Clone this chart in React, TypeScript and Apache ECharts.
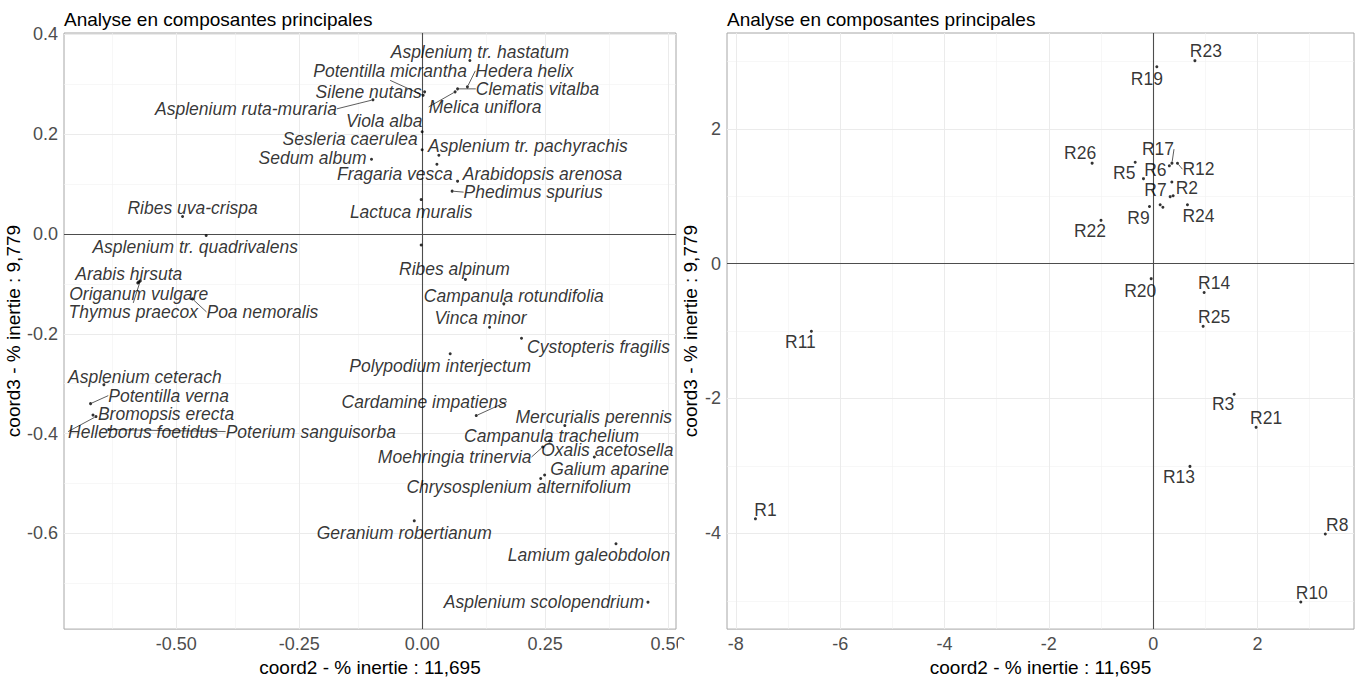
import React, { useEffect, useRef } from "react";
import * as echarts from "echarts";

const TITLE = "Analyse en composantes principales";
const X_TITLE = "coord2 - % inertie : 11,695";
const Y_TITLE = "coord3 - % inertie : 9,779";

// ---- left panel: species ----
const speciesNames = [
  "Asplenium tr. hastatum", "Hedera helix", "Clematis vitalba", "Melica uniflora",
  "Potentilla micrantha", "Silene nutans", "Asplenium ruta-muraria", "Viola alba",
  "Sesleria caerulea", "Asplenium tr. pachyrachis", "Sedum album", "Fragaria vesca",
  "Arabidopsis arenosa", "Phedimus spurius", "Lactuca muralis", "Ribes uva-crispa",
  "Asplenium tr. quadrivalens", "", "Ribes alpinum", "Arabis hirsuta",
  "Origanum vulgare", "Thymus praecox", "Poa nemoralis", "Campanula rotundifolia",
  "Vinca minor", "Cystopteris fragilis", "Polypodium interjectum", "Asplenium ceterach",
  "Potentilla verna", "Bromopsis erecta", "Helleborus foetidus", "Poterium sanguisorba",
  "Cardamine impatiens", "Mercurialis perennis", "Campanula trachelium", "Oxalis acetosella",
  "Moehringia trinervia", "Galium aparine", "Chrysosplenium alternifolium", "Geranium robertianum",
  "Lamium galeobdolon", "Asplenium scolopendrium",
];
const speciesX = [
  0.097, 0.092, 0.072, 0.067,
  0.002, 0.005, -0.1, 0.0,
  0.0, 0.034, -0.103, 0.03,
  0.072, 0.061, -0.002, -0.487,
  -0.439, -0.002, 0.088, -0.576,
  -0.578, -0.573, -0.467, 0.166,
  0.137, 0.202, 0.057, -0.647,
  -0.674, -0.669, -0.663, -0.637,
  0.11, 0.29, 0.259, 0.35,
  0.245, 0.249, 0.241, -0.016,
  0.394, 0.459,
];
const speciesY = [
  0.348, 0.295, 0.291, 0.285,
  0.278, 0.285, 0.269, 0.205,
  0.169, 0.158, 0.15, 0.14,
  0.106, 0.086, 0.069, 0.035,
  -0.003, -0.022, -0.091, -0.096,
  -0.098, -0.094, -0.13, -0.14,
  -0.187, -0.209, -0.24, -0.302,
  -0.34, -0.363, -0.366, -0.392,
  -0.364, -0.384, -0.415, -0.447,
  -0.427, -0.483, -0.49, -0.575,
  -0.621, -0.738,
];
// label placement (pixel offsets from the point, ggrepel-like)
const speciesLabelDx = [
  10, 57, 80, 30, -33, -56, -127, -38, -72, 89, -59, -42, 85, 81, -10, 10,
  -11, 0, -11, -10, 1, -7, 70, 10, -9, 77, -10, 41, 78, 73, 47, 202,
  -52, 29, 2, 13, -88, 65, -22, -10, -27, -104,
];
const speciesLabelDy = [
  -8, -16, 0, 15, -24, 0, 9, -11, -11, -9, -1, 10, -7, 1, 12, -9,
  11, 0, -10, -8, 11, 31, 13, -8, -9, 9, 12, -8, -8, -1, 15, 2,
  -14, -9, -5, -7, 10, -6, 9, 12, 11, 0,
];
const speciesWithSegment = [
  "Hedera helix", "Clematis vitalba", "Melica uniflora", "Potentilla micrantha",
  "Asplenium ruta-muraria", "Phedimus spurius", "Thymus praecox", "Poa nemoralis",
  "Potentilla verna", "Helleborus foetidus", "Poterium sanguisorba",
  "Cardamine impatiens", "Moehringia trinervia",
];

// ---- right panel: relevés ----
const releveNames = [
  "R1", "R2", "R3", "R4", "R5", "R6", "R7", "R8", "R9", "R10", "R11", "R12", "R13",
  "R14", "R15", "R16", "R17", "R18", "R19", "R20", "R21", "R22", "R23", "R24", "R25", "R26",
];
const releveX = [
  -7.625, 0.358, 1.552, 0.326, -0.345, 0.31, -0.186, 3.3, -0.071, 2.83, -6.552, 0.466, 0.705,
  0.977, 0.383, 0.134, 0.36, 0.186, 0.07, -0.038, 1.973, -1.0, 0.8, 0.657, 0.958, -1.17,
];
const releveY = [
  -3.785, 1.21, -1.937, 0.993, 1.504, 1.45, 1.26, -4.01, 0.847, -5.017, -1.003, 1.489, -3.007,
  -0.428, 1.007, 0.872, 1.49, 0.837, 2.92, -0.223, -2.428, 0.642, 3.01, 0.872, -0.93, 1.49,
];
const releveLabelDx = [
  10, 15, -11, 0, -11, -14, 12, 12, -11, 11, -11, 21, -11,
  10, 0, 0, -14, 0, -10, -11, 10, -11, 11, 11, 11, -12,
];
const releveLabelDy = [
  -9, 6, 10, 0, 11, 4, 11, -9, 11, -9, 11, 6, 11,
  -9, 0, 0, -14, 0, 12, 12, -9, 11, -10, 11, -9, -10,
];
const releveHiddenLabels = ["R4", "R15", "R16", "R18"];
const releveWithSegment = ["R17", "R12"];

// ---- axes ----
const leftXRange = [-0.728, 0.516];
const leftYRange = [-0.792, 0.403];
const leftXTicks = [-0.5, -0.25, 0, 0.25, 0.5];
const leftXMinor = [-0.625, -0.375, -0.125, 0.125, 0.375];
const leftYTicks = [0.4, 0.2, 0, -0.2, -0.4, -0.6];
const leftYMinor = [0.3, 0.1, -0.1, -0.3, -0.5, -0.7];

const rightXRange = [-8.17, 3.85];
const rightYRange = [-5.42, 3.42];
const rightXTicks = [-8, -6, -4, -2, 0, 2];
const rightXMinor = [-7, -5, -3, -1, 1, 3];
const rightYTicks = [2, 0, -2, -4];
const rightYMinor = [3, 1, -1, -3, -5];

const FONT = "'Liberation Sans', Arial, Helvetica, sans-serif";

function makeAxis(
  gridIndex: number,
  range: number[],
  ticks: number[],
  fmt: (v: number) => string,
  isY: boolean,
  nameGap: number
) {
  return {
    type: "value",
    gridIndex,
    min: range[0],
    max: range[1],
    name: isY ? Y_TITLE : X_TITLE,
    nameLocation: "middle",
    nameGap,
    nameTextStyle: { fontSize: 19, color: "#000", fontFamily: FONT },
    axisLine: { show: false },
    axisTick: {
      show: true,
      length: 4,
      customValues: ticks,
      lineStyle: { color: "#666", width: 1 },
    },
    axisLabel: {
      customValues: ticks,
      formatter: (v: number) => fmt(v),
      fontSize: 18,
      color: "#4d4d4d",
      margin: 6,
      fontFamily: FONT,
    },
    splitLine: { show: false },
    minorSplitLine: { show: false },
  };
}

function gridMarkLine(xMajor: number[], xMinor: number[], yMajor: number[], yMinor: number[]) {
  const minorStyle = { color: "#f2f2f2", width: 0.6, type: "solid" };
  const majorStyle = { color: "#ebebeb", width: 1, type: "solid" };
  const zeroStyle = { color: "#4d4d4d", width: 1.1, type: "solid" };
  return {
    silent: true,
    symbol: ["none", "none"],
    animation: false,
    z: 1,
    label: { show: false },
    emphasis: { disabled: true },
    data: [
      ...xMinor.map((v) => ({ xAxis: v, lineStyle: minorStyle })),
      ...yMinor.map((v) => ({ yAxis: v, lineStyle: minorStyle })),
      ...xMajor.filter((v) => v !== 0).map((v) => ({ xAxis: v, lineStyle: majorStyle })),
      ...yMajor.filter((v) => v !== 0).map((v) => ({ yAxis: v, lineStyle: majorStyle })),
      { xAxis: 0, lineStyle: zeroStyle },
      { yAxis: 0, lineStyle: zeroStyle },
    ],
  };
}

function repelLayout(dx: number[], dy: number[]) {
  return (params: any) => {
    const i = params.dataIndex;
    const r = params.rect;
    return {
      x: r.x + r.width / 2 + dx[i],
      y: r.y + r.height / 2 + dy[i],
      align: "center",
      verticalAlign: "middle",
    };
  };
}

export default function App() {
  const ref = useRef<HTMLDivElement>(null);

  useEffect(() => {
    document.body.style.margin = "0";
    if (!ref.current) return;
    const chart = echarts.init(ref.current, undefined, { renderer: "svg" });

    const speciesData = speciesNames.map((name, i) => ({
      name,
      value: [speciesX[i], speciesY[i]],
      label: { show: name !== "" },
      labelLine: { show: speciesWithSegment.includes(name) },
    }));

    const releveData = releveNames.map((name, i) => ({
      name,
      value: [releveX[i], releveY[i]],
      label: { show: !releveHiddenLabels.includes(name) },
      labelLine: { show: releveWithSegment.includes(name) },
    }));

    const labelBase = {
      show: true,
      position: "inside",
      formatter: "{b}",
      color: "#000",
      fontSize: 17.5,
      fontFamily: FONT,
      textBorderWidth: 0,
      textBorderColor: "transparent",
    };

    const titleStyle = { fontSize: 19, fontWeight: "normal", color: "#000", fontFamily: FONT };

    const option = {
      animation: false,
      backgroundColor: "#ffffff",
      textStyle: { fontFamily: FONT },
      title: [
        { text: TITLE, left: 64, top: 10, padding: 0, textStyle: titleStyle },
        { text: TITLE, left: 727, top: 10, padding: 0, textStyle: titleStyle },
      ],
      grid: [
        {
          left: 64, top: 33, width: 612, height: 605,
          show: true, borderColor: "#a6a6a6", borderWidth: 1, backgroundColor: "transparent",
        },
        {
          left: 727, top: 33, width: 627, height: 605,
          show: true, borderColor: "#a6a6a6", borderWidth: 1, backgroundColor: "transparent",
        },
      ],
      xAxis: [
        makeAxis(0, leftXRange, leftXTicks, (v) => v.toFixed(2), false, 21),
        makeAxis(1, rightXRange, rightXTicks, (v) => String(v), false, 21),
      ],
      yAxis: [
        makeAxis(0, leftYRange, leftYTicks, (v) => v.toFixed(1), true, 37),
        makeAxis(1, rightYRange, rightYTicks, (v) => String(v), true, 27),
      ],
      series: [
        {
          type: "scatter",
          xAxisIndex: 0,
          yAxisIndex: 0,
          symbol: "circle",
          symbolSize: 3,
          itemStyle: { color: "#000" },
          z: 3,
          label: { ...labelBase, fontStyle: "italic" },
          labelLine: { show: false, lineStyle: { color: "#333", width: 0.8 } },
          labelLayout: repelLayout(speciesLabelDx, speciesLabelDy),
          emphasis: { disabled: true },
          data: speciesData,
          markLine: gridMarkLine(leftXTicks, leftXMinor, leftYTicks, leftYMinor),
        },
        {
          type: "scatter",
          xAxisIndex: 1,
          yAxisIndex: 1,
          symbol: "circle",
          symbolSize: 3,
          itemStyle: { color: "#000" },
          z: 3,
          label: { ...labelBase },
          labelLine: { show: false, lineStyle: { color: "#333", width: 0.8 } },
          labelLayout: repelLayout(releveLabelDx, releveLabelDy),
          emphasis: { disabled: true },
          data: releveData,
          markLine: gridMarkLine(rightXTicks, rightXMinor, rightYTicks, rightYMinor),
        },
      ],
      graphic: [
        {
          type: "rect",
          z: 100,
          shape: { x: 678, y: 640, width: 12, height: 24 },
          style: { fill: "#ffffff" },
          silent: true,
        },
      ],
    };

    chart.setOption(option as any);
    return () => {
      chart.dispose();
    };
  }, []);

  return (
    <div
      ref={ref}
      style={{ position: "fixed", left: 0, top: 0, width: 1360, height: 682 }}
    />
  );
}
